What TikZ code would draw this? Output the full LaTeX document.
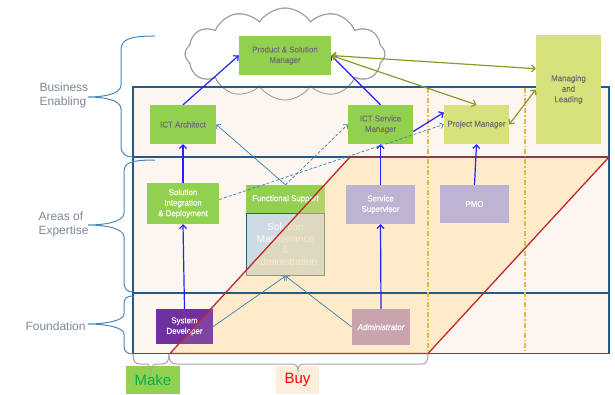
\documentclass[tikz,border=0pt]{standalone}
\usepackage{fontspec}
\setmainfont{Liberation Sans}
\newfontfamily\boxfont[FakeStretch=0.93,FakeBold=0.4]{Liberation Sans}
\usetikzlibrary{arrows.meta,shapes.symbols,calc}

\definecolor{frameblue}{HTML}{1F5C8C}
\definecolor{bracecol}{HTML}{4A88BC}
\definecolor{labelgray}{HTML}{7D8898}
\definecolor{bgpeach}{HTML}{FDF6F0}
\definecolor{buyfill}{HTML}{FDEBC9}
\definecolor{buyred}{HTML}{C0282D}
\definecolor{gold}{HTML}{E6B83C}
\definecolor{lgreen}{HTML}{92D050}
\definecolor{ylgreen}{HTML}{D7E27C}
\definecolor{lavender}{HTML}{BFB3D3}
\definecolor{purple}{HTML}{7030A0}
\definecolor{rose}{HTML}{C8A4AC}
\definecolor{bluegray}{HTML}{CEDBE4}
\definecolor{smborder}{HTML}{2F5E6E}
\definecolor{textgray}{HTML}{707070}
\definecolor{arrowblue}{HTML}{2222FF}
\definecolor{olive}{HTML}{8C9A2A}
\definecolor{steel}{HTML}{3C7DB4}
\definecolor{tint}{HTML}{EFD6A0}
\definecolor{makegreen}{HTML}{00B050}
\definecolor{makefill}{HTML}{92D050}
\definecolor{buylabel}{HTML}{FDEEDB}

\tikzset{
  rolebox/.style={rectangle, inner sep=1pt, align=center,
    font=\boxfont\fontsize{8.5}{10.5}\selectfont},
  greenbox/.style={rolebox, fill=lgreen, text=textgray},
  greenwhite/.style={rolebox, fill=lgreen, text=white},
  ylbox/.style={rolebox, fill=ylgreen, text=textgray},
  lavbox/.style={rolebox, fill=lavender, text=white},
  sidelabel/.style={anchor=west, align=left, text=labelgray,
    font=\fontsize{12}{14}\selectfont},
  lbrace/.style={draw=bracecol, line width=1pt},
  bbrace/.style={draw=gray!70, line width=1pt},
  blueflow/.style={draw=arrowblue, line width=1.2pt,
    -{Straight Barb[length=3.5pt,width=7pt]}},
  oliveflow/.style={draw=olive, line width=1.2pt,
    {Straight Barb[length=3.5pt,width=7pt]}-{Straight Barb[length=3.5pt,width=7pt]}},
  steelflow/.style={draw=steel, line width=0.7pt,
    -{Straight Barb[length=3pt,width=6pt]}},
  steeldash/.style={steelflow, dash pattern=on 3pt off 2pt},
  golddiv/.style={draw=gold, line width=1.3pt,
    dash pattern=on 5pt off 2pt on 1.2pt off 2pt},
  cloudshape/.style={cloud, cloud puffs=12, cloud puff arc=115, aspect=2.2,
    minimum width=200pt, minimum height=92pt, inner sep=0pt}
}

\begin{document}
\begin{tikzpicture}[x=1pt,y=-1pt]
\useasboundingbox (0,0) rectangle (615,394);

% corners of the "buy" band
\coordinate (pa) at (170,353.5);
\coordinate (pb) at (350,157);
\coordinate (pc) at (609,157);
\coordinate (pd) at (428,353.5);

% cloud behind the top of the frame
\node[cloudshape, draw=gray!75, line width=0.9pt, fill=white] (cloud) at (285,54) {};

% frame background
\fill[bgpeach] (133,87) rectangle (609,353.5);
\node[cloudshape, draw=gray!75, line width=0.9pt] (cloudline) at (285,54) {};

% buy band
\fill[buyfill] (pa) -- (pb) -- (pc) -- (pd) -- cycle;

% layer dividers and frame
\draw[frameblue, line width=1.3pt] (133,157) -- (609,157);
\draw[frameblue, line width=1.3pt] (133,293) -- (609,293);
\draw[frameblue, line width=1.8pt] (133,87) rectangle (609,353.5);

% dash-dot column separators
\draw[golddiv] (428,88) -- (428,352);
\draw[golddiv] (525,88) -- (525,352);

% roles
\node[greenbox, minimum width=92pt, minimum height=39pt] (psm) at (285,55.5) {Product \& Solution\\Manager};
\node[greenbox, minimum width=66pt, minimum height=39pt] (ictarch) at (183,124.5) {ICT Architect};
\node[greenbox, minimum width=65pt, minimum height=39pt] (ictsm) at (380.5,124.5) {ICT Service\\Manager};
\node[ylbox, minimum width=65pt, minimum height=39pt] (pm) at (476.5,124.5) {Project Manager};
\node[ylbox, minimum width=65pt, minimum height=109pt] (mgmt) at (568.5,89.5) {Managing\\and\\Leading};
\node[greenwhite, minimum width=72pt, minimum height=41pt] (solint) at (183,203.5) {Solution\\Integration\\\& Deployment};
\node[greenwhite, minimum width=79pt, minimum height=28pt] (fs) at (285.5,199) {Functional Support};
\node[rolebox, fill=bluegray, draw=smborder, line width=1.2pt, text=white!93!yellow,
      font=\fontsize{10}{11.7}\selectfont, minimum width=78pt, minimum height=62pt] (sm) at (285.5,244.5)
      {Solution\\Maintenance\\\&\\Administration};
\node[lavbox, minimum width=69pt, minimum height=39pt] (ss) at (380.5,204.5) {Service\\Supervisor};
\node[lavbox, minimum width=69pt, minimum height=38pt] (pmo) at (474.5,204) {PMO};
\node[rolebox, fill=purple, text=white, minimum width=57pt, minimum height=35pt] (sysdev) at (184.5,326.5) {System\\Developer};
\node[rolebox, fill=rose, text=white, font=\boxfont\itshape\fontsize{8.5}{10.5}\selectfont,
      minimum width=58pt, minimum height=36pt] (admin) at (381,327) {Administrator};

% tint of the band over boxes it crosses
\begin{scope}
  \clip (pa) -- (pb) -- (pc) -- (pd) -- cycle;
  \fill[tint, opacity=0.35] (fs.north west) rectangle (fs.south east);
  \fill[tint, opacity=0.5] (sm.north west) rectangle (sm.south east);
  \fill[tint, opacity=0.12] (sysdev.north west) rectangle (sysdev.south east);
\end{scope}
\draw[buyred, line width=1.3pt, line join=round] (pa) -- (pb) -- (pc) -- (pd) -- cycle;

% reporting lines
\draw[blueflow] (ictarch.north) -- (psm.west);
\draw[blueflow] (ictsm.north) -- (psm.east);
\draw[blueflow] (solint.north) -- (ictarch.south);
\draw[blueflow] (sysdev.north) -- (solint.south);
\draw[blueflow] (admin.north) -- (ss.south);
\draw[blueflow] (ss.north) -- (ictsm.south);
\draw[blueflow] (pmo.north) -- (pm.south);
\draw[blueflow] ($(ictsm.east)+(0,7)$) -- ($(pm.west)+(0,-12)$);

% management links
\draw[oliveflow] (psm.east) -- ($(mgmt.north west)!0.31!(mgmt.south west)$);
\draw[oliveflow] (psm.east) -- (pm.north);
\draw[oliveflow] (pm.east) -- (mgmt.west);

% support links
\draw[steelflow] (fs.north) -- (ictarch.east);
\draw[steeldash] (fs.north) -- (ictsm.west);
\draw[steeldash] ($(solint.east)+(0,-4)$) -- (pm.west);
\draw[steelflow] (sysdev.east) -- (sm.south);
\draw[steelflow] (admin.west) -- (sm.south);

% layer braces
\draw[lbrace] (155,36) .. controls (128,36) and (121,40) .. (121,50) -- (121,85)
  .. controls (121,94) and (104,97) .. (88,97) .. controls (104,97) and (121,100) .. (121,109)
  -- (121,146) .. controls (121,154) and (126,157) .. (133,157);
\draw[lbrace] (155,160) .. controls (130,160) and (124,163) .. (124,172) -- (124,213)
  .. controls (124,222) and (104,225) .. (88,225) .. controls (104,225) and (124,228) .. (124,237)
  -- (124,282) .. controls (124,289) and (127,292) .. (133,292);
\draw[lbrace] (133,296) .. controls (127,296) and (124,298) .. (124,304) -- (124,314)
  .. controls (124,321) and (104,324) .. (88,324) .. controls (104,324) and (124,327) .. (124,334)
  -- (124,346) .. controls (124,351) and (127,354) .. (133,354);

\node[sidelabel] (lbe) at (36,95) {Business\\Enabling};
\node[sidelabel] (lae) at (35,224) {Areas of\\Expertise};
\node[sidelabel] (lfd) at (22,326) {Foundation};

% make / buy labels
\node[rectangle, fill=makefill, text=makegreen, minimum width=54pt, minimum height=28pt,
      inner sep=0pt, font=\fontsize{15}{17}\selectfont] (make) at (153,380) {Make};
\node[rectangle, fill=buylabel, text=red, minimum width=43pt, minimum height=28pt,
      inner sep=0pt, font=\fontsize{15}{17}\selectfont] (buy) at (297.5,380) {Buy};

\draw[bbrace] (133,354) .. controls (133,361) and (135,364) .. (140,364) -- (146,364)
  .. controls (149,364) and (151,367) .. (151,375) .. controls (151,367) and (153,364) .. (156,364)
  -- (162,364) .. controls (167,364) and (169,361) .. (169,354);
\draw[bbrace] (169,354) .. controls (169,361) and (171,364) .. (176,364) -- (292,364)
  .. controls (296,364) and (298,366) .. (298,371) .. controls (298,366) and (300,364) .. (304,364)
  -- (422,364) .. controls (426,364) and (428,361) .. (428,354);
\end{tikzpicture}
\end{document}
